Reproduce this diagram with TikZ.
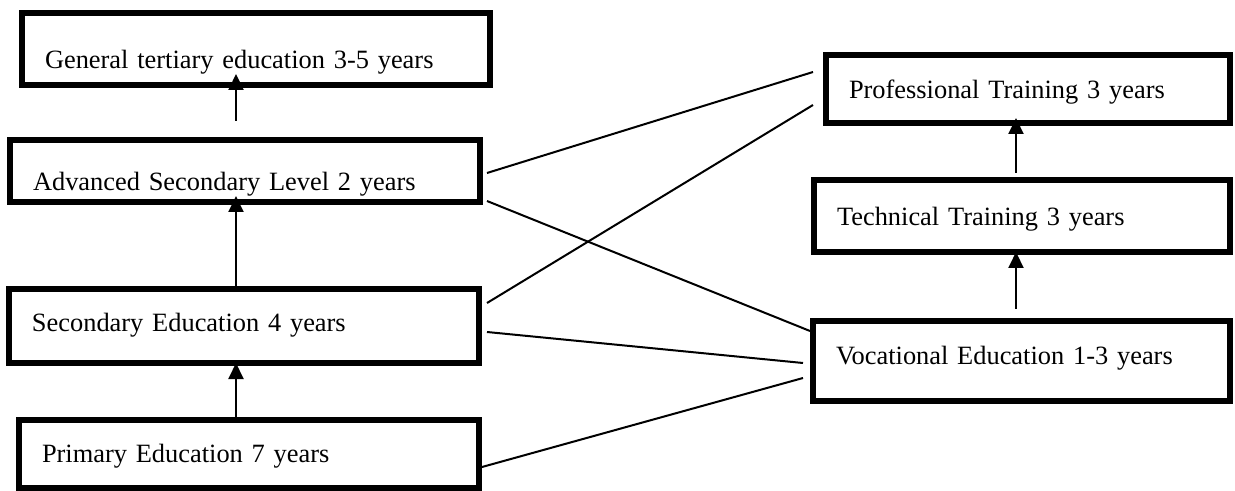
\documentclass[tikz,border=0pt]{standalone}
\usepackage{fontspec}
\setmainfont{Liberation Serif}
\usetikzlibrary{arrows.meta}

\begin{document}
\begin{tikzpicture}[
  x=0.5pt, y=-0.5pt,
  every node/.style={font=\fontsize{13.2}{15}\selectfont},
  stage/.style={draw, line width=3pt, inner xsep=11.5pt, inner ysep=0pt, align=left, text height=8.6pt, text depth=0pt},
  link/.style={line width=1pt},
  arrow/.style={-{Triangle[width=7.5pt,length=8pt]}, line width=1pt}
]
\useasboundingbox (0,0) rectangle (1235,491);
\coordinate (lcol) at (236,0);
\coordinate (rcol) at (1016,0);

\node[stage, text width=211pt, minimum height=36pt, text height=20pt] (tertiary) at (256,49) {General tertiary education 3-5 years};
\node[stage, text width=212pt, minimum height=31pt, text height=19.6pt] (advanced) at (245,171) {Advanced Secondary Level 2 years};
\node[stage, text width=212pt, minimum height=37pt, text depth=3pt] (secondary) at (244,326) {Secondary Education 4 years};
\node[stage, text width=207pt, minimum height=34pt] (primary) at (249,454) {Primary Education 7 years};
\node[stage, text width=179pt, minimum height=34pt, text height=9.6pt] (professional) at (1028,89) {Professional Training 3 years};
\node[stage, text width=185pt, minimum height=36pt, text height=9.6pt] (technical) at (1022,216) {Technical Training 3 years};
\node[stage, text width=185.5pt, minimum height=40pt, text depth=5pt] (vocational) at (1021.5,361) {Vocational Education 1-3 years};

\draw[arrow] ([yshift=8pt]lcol |- advanced.north) -- ([yshift=7pt]lcol |- tertiary.south);
\draw[arrow] (lcol |- secondary.north) -- ([yshift=4.5pt]lcol |- advanced.south);
\draw[arrow] (lcol |- primary.north) -- ([yshift=1.5pt]lcol |- secondary.south);
\draw[arrow] ([yshift=2pt]rcol |- technical.north) -- ([yshift=4pt]rcol |- professional.south);
\draw[arrow] ([yshift=4.5pt]rcol |- vocational.north) -- ([yshift=1.5pt]rcol |- technical.south);

\draw[link] ([shift={(2pt,-1pt)}]advanced.east) -- ([shift={(-5pt,8.5pt)}]professional.west);
\draw[link] ([shift={(2pt,-15pt)}]advanced.east) -- ([yshift=-6.5pt]vocational.north west);
\draw[link] ([shift={(2.5pt,11.5pt)}]secondary.east) -- ([shift={(-5pt,-8pt)}]professional.west);
\draw[link] ([shift={(2.5pt,-3pt)}]secondary.east) -- ([shift={(-3.5pt,-1pt)}]vocational.west);
\draw[link] ([yshift=-6.5pt]primary.east) -- ([shift={(-3.5pt,-8.5pt)}]vocational.west);
\end{tikzpicture}
\end{document}
